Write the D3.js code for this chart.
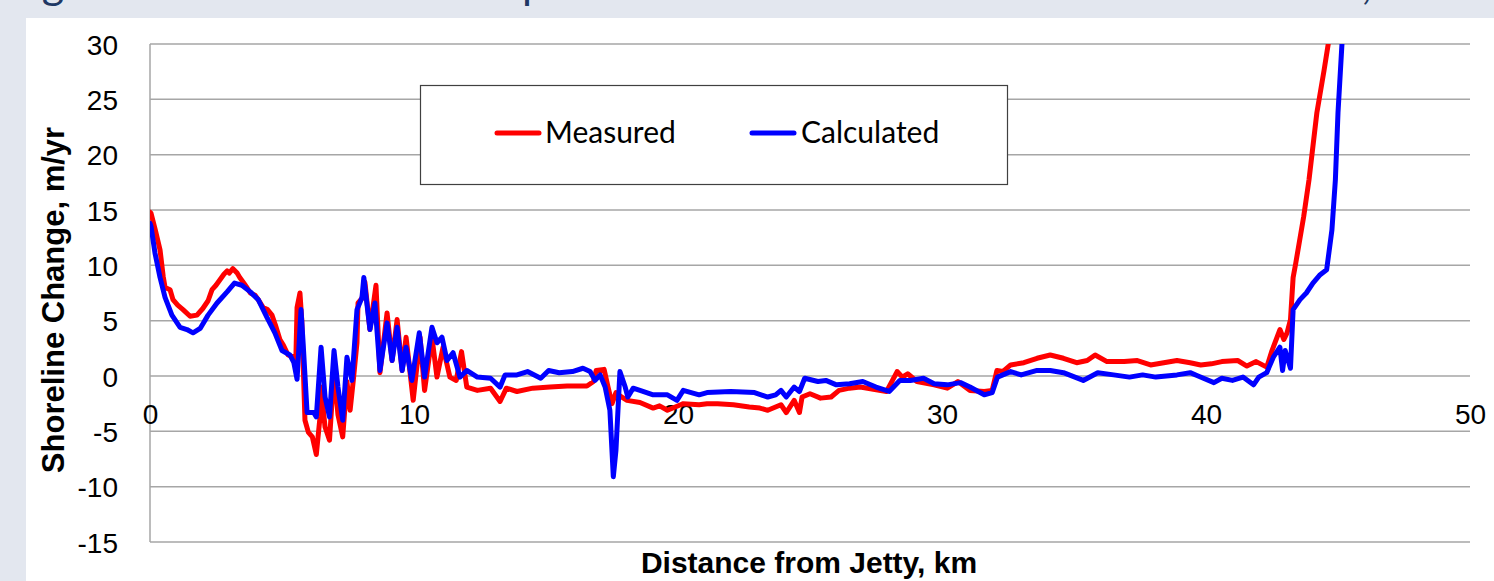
<!DOCTYPE html>
<html>
<head>
<meta charset="utf-8">
<script src="https://cdn.jsdelivr.net/npm/d3@7"></script>
<style>
  html, body { margin: 0; padding: 0; background: #e3e7ef; overflow: hidden; }
  svg { display: block; }
</style>
</head>
<body>
<svg id="chart" width="1494" height="581"></svg>
<script>
// ---------- data ----------
const xTicks = [0, 10, 20, 30, 40, 50];
const yTicks = [30, 25, 20, 15, 10, 5, 0, -5, -10, -15];
const seriesNames = ["Measured", "Calculated"];
const seriesColors = ["#ff0000", "#0000ff"];

const measuredKm = [0.0,0.04,0.2,0.38,0.5,0.57,0.76,0.87,1.05,1.25,1.52,1.78,2.0,2.2,2.35,2.5,2.65,2.8,2.92,3.0,3.14,3.3,3.4,3.55,3.67,3.8,3.98,4.1,4.28,4.45,4.62,4.75,4.92,5.05,5.23,5.45,5.52,5.57,5.68,5.75,5.87,6.0,6.15,6.3,6.44,6.48,6.63,6.8,6.97,7.12,7.3,7.46,7.58,7.7,7.84,7.88,8.03,8.14,8.33,8.56,8.71,8.98,9.17,9.36,9.55,9.7,9.97,10.23,10.4,10.68,10.87,11.1,11.36,11.6,11.8,12.0,12.4,12.9,13.26,13.5,13.9,14.5,15.15,15.8,16.55,16.8,16.9,17.2,17.35,17.5,17.65,17.8,18.07,18.56,19.06,19.3,19.6,20.1,20.2,20.8,21.1,21.5,22.1,22.7,23.1,23.4,23.9,24.1,24.4,24.6,24.7,25.0,25.4,25.8,26.1,26.5,26.9,27.4,27.9,28.3,28.5,28.7,29.05,29.7,30.2,30.6,31.06,31.6,31.9,32.08,32.3,32.6,33.1,33.6,34.1,34.6,35.1,35.5,35.8,36.25,36.9,37.4,37.9,38.4,38.9,39.4,39.8,40.2,40.6,41.2,41.55,41.9,42.3,42.5,42.8,42.95,43.07,43.2,43.3,43.4,43.7,43.9,44.2,44.3,44.47,44.63,44.8];
const measuredVal = [14.8,14.7,13.2,11.4,9.0,8.0,7.8,6.9,6.4,6.0,5.4,5.5,6.1,6.8,7.8,8.2,8.7,9.2,9.5,9.3,9.7,9.3,8.9,8.4,8.0,7.5,7.3,6.9,6.2,6.0,5.5,4.6,3.3,2.8,1.9,1.7,1.0,6.2,7.5,5.0,-4.0,-5.1,-5.5,-7.1,-3.7,-1.0,-4.6,-5.8,0.5,-3.5,-5.5,-0.5,-3.1,-0.4,3.0,6.6,7.0,8.5,4.2,8.2,0.3,5.7,1.4,5.1,0.5,3.5,-2.2,3.5,-1.3,3.5,-0.1,2.6,-0.1,-0.4,2.2,-1.0,-1.3,-1.1,-2.3,-1.1,-1.4,-1.1,-1.0,-0.9,-0.9,-0.5,0.5,0.6,-1.0,-2.5,-1.5,-1.8,-2.2,-2.4,-2.9,-2.7,-3.1,-2.6,-2.5,-2.6,-2.5,-2.5,-2.6,-2.8,-2.9,-3.1,-2.6,-3.3,-2.2,-3.3,-1.9,-1.6,-2.0,-1.9,-1.3,-1.1,-1.0,-1.2,-1.4,0.4,-0.1,0.2,-0.5,-0.8,-1.1,-0.5,-1.3,-1.4,-1.3,0.5,0.4,1.0,1.2,1.6,1.9,1.6,1.2,1.4,1.9,1.3,1.3,1.4,1.0,1.2,1.4,1.2,1.0,1.1,1.3,1.4,0.9,1.3,0.8,2.3,4.2,3.3,3.9,5.1,8.9,10.2,14.4,17.7,23.8,25.2,27.6,30.0,33.0];

const calculatedKm = [0.0,0.04,0.19,0.38,0.57,0.83,1.14,1.4,1.63,1.9,2.2,2.54,2.92,3.2,3.48,3.8,4.1,4.43,4.73,5.0,5.3,5.45,5.57,5.65,5.72,5.8,5.95,6.2,6.3,6.48,6.63,6.8,6.97,7.12,7.3,7.46,7.65,7.84,8.03,8.1,8.33,8.52,8.71,8.98,9.17,9.36,9.55,9.7,9.92,10.2,10.4,10.68,10.87,11.06,11.25,11.48,11.74,12.0,12.4,12.9,13.26,13.45,13.9,14.3,14.8,15.1,15.5,16.0,16.4,16.67,16.86,17.05,17.24,17.42,17.55,17.65,17.8,18.0,18.1,18.3,18.56,19.06,19.2,19.6,19.96,20.2,20.8,21.1,22.0,22.9,23.4,23.7,23.9,24.1,24.4,24.6,24.8,25.3,25.6,26.0,26.5,27.0,27.5,28.0,28.4,28.8,29.3,29.7,30.2,30.7,31.06,31.6,31.9,32.1,32.6,33.0,33.6,34.1,34.6,35.35,35.9,36.5,37.1,37.6,38.1,38.9,39.4,39.7,40.3,40.6,41.0,41.4,41.8,42.0,42.3,42.55,42.8,42.9,43.0,43.2,43.3,43.56,43.8,44.05,44.3,44.57,44.77,44.9,45.0,45.15,45.25];
const calculatedVal = [13.8,13.5,11.1,8.9,7.1,5.5,4.4,4.2,3.9,4.3,5.5,6.6,7.6,8.4,8.2,7.6,6.9,5.3,3.9,2.3,1.9,1.2,-0.3,3.0,6.0,3.0,-3.3,-3.3,-3.7,2.6,-1.9,-3.7,2.3,-1.0,-4.0,1.7,-0.4,6.0,7.1,8.9,4.2,6.6,0.5,4.8,1.4,4.4,0.5,2.6,-0.4,3.9,-0.1,4.4,3.0,3.5,1.4,2.1,-0.1,0.5,-0.1,-0.2,-1.0,0.1,0.1,0.4,-0.2,0.5,0.3,0.4,0.7,0.4,-0.4,0.1,-1.0,-3.1,-9.1,-6.7,0.4,-1.0,-1.9,-1.1,-1.3,-1.7,-1.7,-1.7,-2.2,-1.3,-1.7,-1.5,-1.4,-1.5,-1.9,-1.7,-1.3,-1.9,-1.0,-1.4,-0.2,-0.5,-0.4,-0.8,-0.7,-0.5,-1.0,-1.4,-0.4,-0.4,-0.2,-0.7,-0.8,-0.6,-1.0,-1.7,-1.5,-0.1,0.4,0.1,0.5,0.5,0.3,-0.4,0.3,0.1,-0.1,0.1,-0.1,0.1,0.3,0.0,-0.6,-0.2,-0.4,-0.1,-0.8,-0.1,0.3,1.7,2.6,0.5,2.3,0.7,6.0,6.9,7.5,8.4,9.1,9.6,13.2,17.7,23.8,30.0,33.0];

const titleText = "Figure 5. Measured vs Computed Shoreline Erosion and Accretion Rates, 1985–2010";
const yLabel = "Shoreline Change, m/yr";
const xLabel = "Distance from Jetty, km";

// ---------- layout ----------
const W = 1494, H = 581;
const plot = { left: 150, right: 1470, top: 44, bottom: 542 };
const sans = "'Liberation Sans', Arial, sans-serif";

const svg = d3.select("#chart");

// background & white panel
svg.append("rect").attr("x", 0).attr("y", 0).attr("width", W).attr("height", H).attr("fill", "#e3e7ef");
svg.append("rect").attr("x", 26).attr("y", 18).attr("width", W - 26).attr("height", H - 18).attr("fill", "#ffffff");

// cut-off slide title (only descenders visible above the panel)
const title = svg.append("text")
  .attr("x", 20).attr("y", -1)
  .attr("font-family", "Lato, 'Open Sans', sans-serif")
  .attr("font-size", 40)
  .attr("fill", "#203864")
  .text(titleText);
(function fitTitle() {
  const node = title.node();
  const ig = titleText.indexOf("g"), ic = titleText.indexOf(",");
  const center = i => { const e = node.getExtentOfChar(i); return e.x + e.width / 2; };
  const s = (1367 - 53) / (center(ic) - center(ig));
  title.attr("font-size", 40 * s);
  const shift = 53 - center(ig);
  title.attr("x", 20 + shift);
})();

const x = d3.scaleLinear().domain([0, 50]).range([plot.left, plot.right]);
const y = d3.scaleLinear().domain([-15, 30]).range([plot.bottom, plot.top]);

// gridlines
svg.append("g")
  .selectAll("line")
  .data(yTicks)
  .join("line")
  .attr("x1", plot.left).attr("x2", plot.right)
  .attr("y1", d => y(d)).attr("y2", d => y(d))
  .attr("stroke", "#a6a6a6").attr("stroke-width", 1.5);

// left axis line
svg.append("line")
  .attr("x1", plot.left).attr("x2", plot.left)
  .attr("y1", plot.top).attr("y2", plot.bottom)
  .attr("stroke", "#a6a6a6").attr("stroke-width", 1.5);

const fmt = d => String(d);

// y tick labels via d3 axis
const yAxis = svg.append("g")
  .attr("transform", `translate(${plot.left - 32},0)`)
  .call(d3.axisLeft(y).tickValues(yTicks).tickFormat(fmt).tickSize(0).tickPadding(0));
yAxis.select(".domain").remove();
yAxis.selectAll("text")
  .attr("font-family", sans)
  .attr("font-size", 28)
  .attr("fill", "#000")
  .attr("dy", "0.36em");

// x tick labels (sitting under the zero line)
const xAxis = svg.append("g")
  .attr("transform", `translate(0,${y(0) + 38})`)
  .call(d3.axisBottom(x).tickValues(xTicks).tickFormat(fmt).tickSize(0).tickPadding(0));
xAxis.select(".domain").remove();
xAxis.selectAll("text")
  .attr("font-family", sans)
  .attr("font-size", 28)
  .attr("fill", "#000")
  .attr("dy", "0.36em");

// clip
svg.append("clipPath").attr("id", "clip")
  .append("rect")
  .attr("x", plot.left).attr("y", plot.top)
  .attr("width", plot.right - plot.left).attr("height", plot.bottom - plot.top);

const line = d3.line().x(d => x(d[0])).y(d => y(d[1]));
const measured = measuredKm.map((k, i) => [k, measuredVal[i]]);
const calculated = calculatedKm.map((k, i) => [k, calculatedVal[i]]);

const lines = svg.append("g").attr("clip-path", "url(#clip)");
[measured, calculated].forEach((data, i) => {
  lines.append("path")
    .datum(data)
    .attr("d", line)
    .attr("fill", "none")
    .attr("stroke", seriesColors[i])
    .attr("stroke-width", 5)
    .attr("stroke-linejoin", "round")
    .attr("stroke-linecap", "round");
});

// axis titles
svg.append("text")
  .attr("transform", `translate(64,300) rotate(-90)`)
  .attr("text-anchor", "middle")
  .attr("font-family", sans)
  .attr("font-weight", "bold")
  .attr("font-size", 31)
  .attr("fill", "#000")
  .text(yLabel);

svg.append("text")
  .attr("x", 809).attr("y", 573)
  .attr("text-anchor", "middle")
  .attr("font-family", sans)
  .attr("font-weight", "bold")
  .attr("font-size", 30)
  .attr("fill", "#000")
  .text(xLabel);

// legend
const lg = svg.append("g");
lg.append("rect")
  .attr("x", 420.5).attr("y", 85.5).attr("width", 587).attr("height", 99)
  .attr("fill", "#fff").attr("stroke", "#404040").attr("stroke-width", 1.2);
const legendPos = [{ lx: 497, tx: 545 }, { lx: 752, tx: 801 }];
seriesNames.forEach((name, i) => {
  lg.append("line")
    .attr("x1", legendPos[i].lx).attr("x2", legendPos[i].lx + 42)
    .attr("y1", 133).attr("y2", 133)
    .attr("stroke", seriesColors[i]).attr("stroke-width", 5).attr("stroke-linecap", "round");
  lg.append("text")
    .attr("x", legendPos[i].tx).attr("y", 143)
    .attr("font-family", "Lato, 'Open Sans', sans-serif")
    .attr("font-size", 30)
    .attr("fill", "#000")
    .text(name);
});
</script>
</body>
</html>
